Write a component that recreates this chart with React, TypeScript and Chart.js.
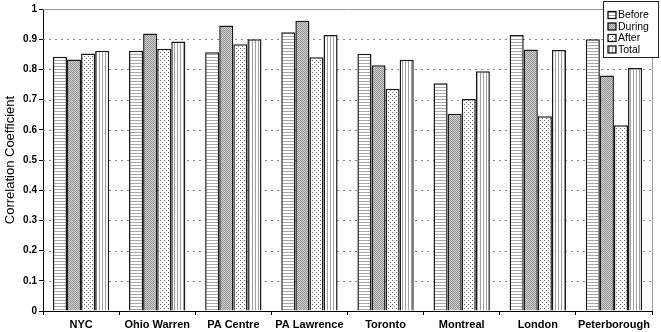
import React, { useEffect, useRef } from "react";
import { Chart, registerables } from "chart.js";
Chart.register(...registerables);

const categories = ["NYC", "Ohio Warren", "PA Centre", "PA Lawrence", "Toronto", "Montreal", "London", "Peterborough"];
const seriesNames = ["Before", "During", "After", "Total"];
const beforeValues = [0.842, 0.862, 0.857, 0.923, 0.852, 0.754, 0.914, 0.900];
const duringValues = [0.833, 0.919, 0.945, 0.961, 0.814, 0.653, 0.866, 0.780];
const afterValues = [0.853, 0.868, 0.883, 0.840, 0.736, 0.702, 0.645, 0.615];
const totalValues = [0.862, 0.892, 0.900, 0.914, 0.832, 0.794, 0.864, 0.805];
const yAxisTitle = "Correlation Coefficient";
const yMin = 0;
const yMax = 1;
const yStep = 0.1;

const FONT = "'Liberation Sans', Arial, sans-serif";

function makePattern(kind: string): CanvasPattern | string {
  const c = document.createElement("canvas");
  const g = c.getContext("2d")!;
  if (kind === "before") {
    c.width = 4; c.height = 3;
    g.fillStyle = "#fff"; g.fillRect(0, 0, 4, 3);
    g.fillStyle = "#a8a8a8"; g.fillRect(0, 0, 4, 1);
  } else if (kind === "during") {
    c.width = 2; c.height = 2;
    g.fillStyle = "#cdcdcd"; g.fillRect(0, 0, 2, 2);
    g.fillStyle = "#969696"; g.fillRect(0, 0, 1, 1); g.fillRect(1, 1, 1, 1);
  } else if (kind === "after") {
    c.width = 4; c.height = 4;
    g.fillStyle = "#fff"; g.fillRect(0, 0, 4, 4);
    g.fillStyle = "#666"; g.fillRect(0, 0, 1, 1); g.fillRect(2, 2, 1, 1);
  } else {
    c.width = 3; c.height = 4;
    g.fillStyle = "#fff"; g.fillRect(0, 0, 3, 4);
    g.fillStyle = "#a0a0a0"; g.fillRect(0, 0, 1, 4);
  }
  const p = g.createPattern(c, "repeat");
  return p || "#ccc";
}

export default function App() {
  const ref = useRef<HTMLCanvasElement | null>(null);
  useEffect(() => {
    if (!ref.current) return;
    const patterns = [makePattern("before"), makePattern("during"), makePattern("after"), makePattern("total")];
    const seriesValues = [beforeValues, duringValues, afterValues, totalValues];

    const framePlugin = {
      id: "frame",
      beforeDatasetsDraw(chart: any) {
        const { ctx, chartArea, scales } = chart;
        const y = scales.y;
        ctx.save();
        ctx.strokeStyle = "#8c8c8c";
        ctx.lineWidth = 1;
        ctx.setLineDash([2, 4]);
        for (let v = yStep; v < yMax - 1e-9; v += yStep) {
          const py = Math.round(y.getPixelForValue(v)) + 0.5;
          ctx.beginPath();
          ctx.moveTo(chartArea.left, py);
          ctx.lineTo(chartArea.right, py);
          ctx.stroke();
        }
        ctx.setLineDash([]);
        ctx.strokeStyle = "#9a9a9a";
        const top = Math.round(y.getPixelForValue(yMax)) + 0.5;
        const right = Math.round(chartArea.right) + 0.5;
        ctx.beginPath();
        ctx.moveTo(chartArea.left, top);
        ctx.lineTo(right, top);
        ctx.lineTo(right, chartArea.bottom);
        ctx.stroke();
        ctx.restore();
      },
    };

    const legendPlugin = {
      id: "boxLegend",
      afterDraw(chart: any) {
        const { ctx } = chart;
        const x0 = 603.5, y0 = 1.5, w = 55, h = 56;
        ctx.save();
        ctx.fillStyle = "#fff";
        ctx.fillRect(x0, y0, w, h);
        ctx.strokeStyle = "#222";
        ctx.lineWidth = 1;
        ctx.strokeRect(x0, y0, w, h);
        ctx.font = `10.5px ${FONT}`;
        ctx.textBaseline = "middle";
        chart.data.datasets.forEach((ds: any, i: number) => {
          const cy = 15 + i * 11.5;
          ctx.fillStyle = ds.backgroundColor;
          ctx.fillRect(608, cy - 3.5, 8, 7);
          ctx.strokeStyle = "#000";
          ctx.lineWidth = 1.2;
          ctx.strokeRect(608, cy - 3.5, 8, 7);
          ctx.fillStyle = "#000";
          ctx.fillText(ds.label, 618, cy + 0.5);
        });
        ctx.restore();
      },
    };

    const chart = new Chart(ref.current, {
      type: "bar",
      data: {
        labels: categories,
        datasets: seriesNames.map((name, i) => ({
          label: name,
          data: seriesValues[i],
          backgroundColor: patterns[i] as any,
          borderColor: "#1a1a1a",
          borderWidth: 1.5,
          categoryPercentage: 0.74,
          barPercentage: 1,
        })),
      },
      options: {
        animation: false,
        responsive: false,
        maintainAspectRatio: false,
        layout: { padding: { top: 9, right: 9, left: 0, bottom: 0 } },
        plugins: { legend: { display: false }, tooltip: { enabled: false } },
        scales: {
          x: {
            grid: { offset: true, drawOnChartArea: false, drawTicks: true, tickLength: 4, color: "#000", tickColor: "#000" },
            border: { display: true, color: "#000", width: 1 },
            ticks: { color: "#000", font: { family: FONT, size: 11, weight: "bold" }, padding: 3, maxRotation: 0, autoSkip: false },
            afterFit(scale: any) { scale.height = 21; },
          },
          y: {
            min: yMin,
            max: yMax,
            grid: { drawOnChartArea: false, drawTicks: true, tickLength: 4, color: "#000", tickColor: "#000" },
            border: { display: true, color: "#000", width: 1 },
            ticks: {
              stepSize: yStep,
              color: "#000",
              padding: 2,
              font: { family: FONT, size: 10, weight: "bold" },
              callback: (v: any) => String(Number(Number(v).toFixed(1))),
            },
            title: { display: true, text: yAxisTitle, color: "#000", font: { family: FONT, size: 13 }, padding: { top: 3, bottom: 0 } },
            afterFit(scale: any) { scale.width = 43; },
          },
        },
      },
      plugins: [framePlugin, legendPlugin],
    } as any);
    return () => chart.destroy();
  }, []);
  return (
    <div style={{ position: "absolute", left: 0, top: 0, width: 661, height: 332, background: "#fff" }}>
      <canvas ref={ref} width={661} height={332} style={{ display: "block" }} />
    </div>
  );
}
